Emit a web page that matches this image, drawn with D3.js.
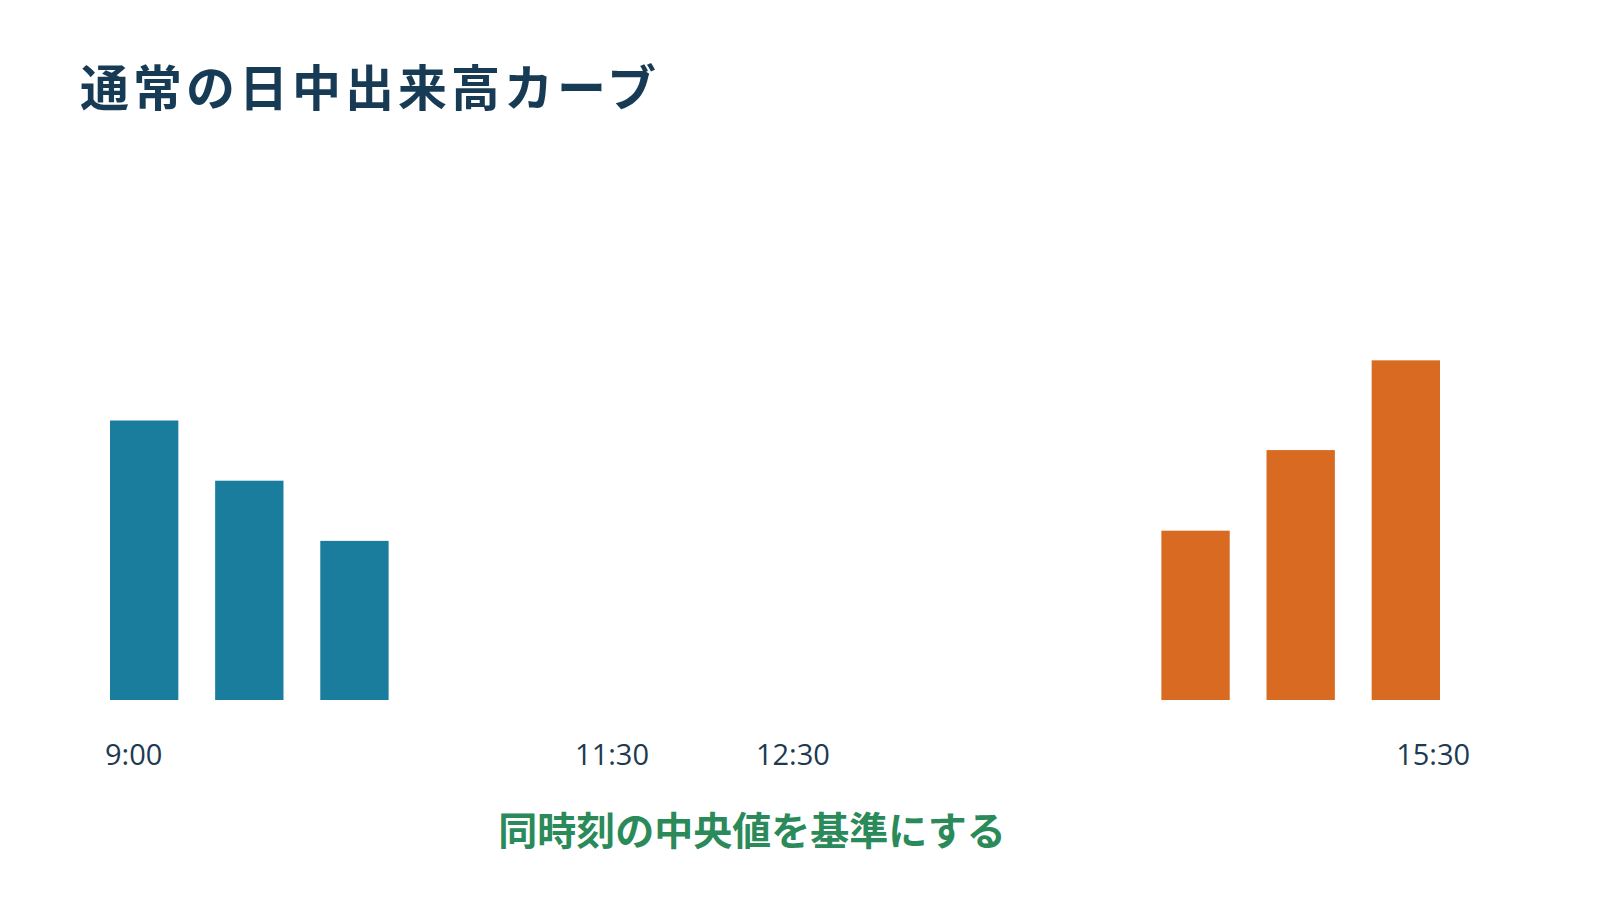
<!DOCTYPE html>
<html><head><meta charset="utf-8">
<script src="https://cdn.jsdelivr.net/npm/d3@7"></script>
<style>body{margin:0;background:#fff}</style>
</head><body><svg id="chart"></svg>
<script>
const slots = d3.range(13);
const openSlots = [0, 1, 2];
const openValues = [274, 215, 156];
const closeSlots = [10, 11, 12];
const closeValues = [166, 245, 333];
const tickLabels = ["9:00", "11:30", "12:30", "15:30"];
const tickSlots = [-0.1, 4.45, 6.17, 12.26];

const W = 1600, H = 900;
const svg = d3.select("#chart").attr("width", W).attr("height", H)
  .style("font-family", "'Noto Sans CJK JP', 'Noto Sans', sans-serif");

const x = d3.scaleBand().domain(slots).range([110, 1440]).paddingInner(0.35).paddingOuter(0);
const y = d3.scaleLinear().domain([0, 400]).range([700, 292]);
const slotX = d3.scaleLinear().domain([0, 1]).range([x(0) + x.bandwidth() / 2, x(1) + x.bandwidth() / 2]);

svg.append("text").attr("x", 80).attr("y", 106)
  .attr("font-size", 49).attr("font-weight", 700).attr("fill", "#173a55")
  .attr("letter-spacing", 4).text("通常の日中出来高カーブ");

function drawBars(idx, vals, color) {
  svg.append("g").selectAll("rect").data(idx).join("rect")
    .attr("x", d => x(d)).attr("width", x.bandwidth())
    .attr("y", (d, i) => y(vals[i])).attr("height", (d, i) => y(0) - y(vals[i]))
    .attr("fill", color);
}
drawBars(openSlots, openValues, "#1a7d9e");
drawBars(closeSlots, closeValues, "#d96a21");

svg.append("g").selectAll("text").data(tickLabels).join("text")
  .attr("x", (d, i) => slotX(tickSlots[i])).attr("y", 765)
  .attr("text-anchor", "middle").attr("font-size", 29).attr("fill", "#1d3a50")
  .attr("font-family", "'Open Sans', 'Noto Sans', sans-serif")
  .text(d => d);

svg.append("text").attr("x", 752).attr("y", 845).attr("text-anchor", "middle")
  .attr("font-size", 39).attr("font-weight", 700).attr("fill", "#2a8a5a")
  .text("同時刻の中央値を基準にする");
</script></body></html>
